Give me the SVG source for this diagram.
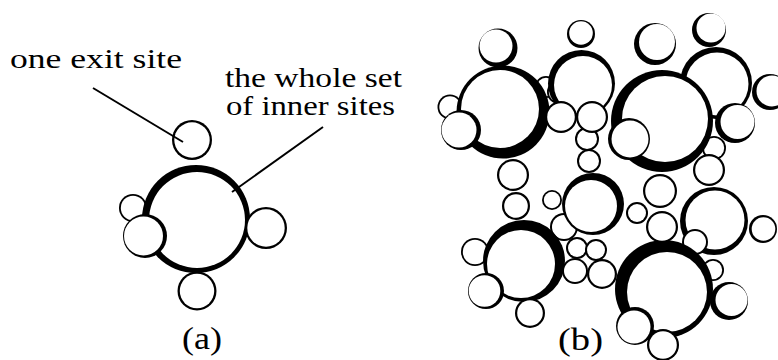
<svg xmlns="http://www.w3.org/2000/svg" width="778" height="360" viewBox="0 0 778 360">
<style>
.k{fill:#000}
.w{fill:#fff}
.t{font-family:"Liberation Serif","DejaVu Serif",serif;fill:#000}
.lead{stroke:#000;stroke-width:2;fill:none}
</style>
<rect width="778" height="360" fill="#fff"/>
<g id="panel-a">
  <g id="a-back"><circle class="k" cx="133" cy="208" r="14"/><circle class="w" cx="133" cy="208" r="12.2"/></g>
  <g id="a-inner-sites"><circle class="k" cx="196" cy="219" r="54"/><circle class="w" cx="197" cy="220" r="48"/></g>
  <g id="a-left"><circle class="k" cx="145" cy="236" r="22"/><circle class="w" cx="143.5" cy="236" r="19.5"/></g>
  <g id="a-right"><circle class="k" cx="266" cy="228" r="21"/><circle class="w" cx="266" cy="228" r="18.7"/></g>
  <g id="a-exit"><circle class="k" cx="192" cy="140" r="20"/><circle class="w" cx="192" cy="140" r="17.7"/></g>
  <g id="a-bottom"><circle class="k" cx="197" cy="291" r="19.5"/><circle class="w" cx="197" cy="291" r="17.2"/></g>
</g>
<g id="connectors">
  <line class="lead" x1="93" y1="88" x2="183" y2="142"/>
  <line class="lead" x1="323" y1="127" x2="232" y2="192"/>
</g>
<g id="panel-b">
  <g id="b-back">
    <circle class="k" cx="450" cy="107" r="12.5"/><circle class="w" cx="450" cy="107" r="10.7"/>
    <circle class="k" cx="546" cy="87" r="11"/><circle class="w" cx="546" cy="87" r="9.2"/>
    <circle class="k" cx="559" cy="92" r="12"/><circle class="w" cx="559" cy="92" r="10.2"/>
    <circle class="k" cx="581.5" cy="83.5" r="33.5"/><circle class="w" cx="583" cy="85" r="29"/>
    <circle class="k" cx="716" cy="83" r="36"/><circle class="w" cx="717" cy="84" r="31.5"/>
    <circle class="k" cx="714" cy="148" r="12"/><circle class="w" cx="714" cy="148" r="10.2"/>
    <circle class="k" cx="475" cy="252" r="14"/><circle class="w" cx="475" cy="252" r="12.2"/>
    <circle class="k" cx="552" cy="200" r="10"/><circle class="w" cx="552" cy="200" r="8.2"/>
    <circle class="k" cx="564" cy="227" r="14"/><circle class="w" cx="564" cy="227" r="12"/>
    <circle class="k" cx="714" cy="221" r="34"/><circle class="w" cx="715" cy="220" r="29.5"/>
    <circle class="k" cx="695" cy="242" r="13"/><circle class="w" cx="695" cy="242" r="11"/>
    <circle class="k" cx="713" cy="270" r="11"/><circle class="w" cx="713" cy="270" r="9.2"/>
  </g>
  <g id="b-large">
    <circle class="k" cx="503" cy="112" r="46.5"/><circle class="w" cx="500" cy="109" r="39"/>
    <circle class="k" cx="662" cy="121" r="51"/><circle class="w" cx="665" cy="119" r="43"/>
    <circle class="k" cx="593" cy="204" r="31"/><circle class="w" cx="591" cy="206" r="26"/>
    <circle class="k" cx="524" cy="261" r="41"/><circle class="w" cx="521" cy="264" r="34"/>
    <circle class="k" cx="664" cy="289" r="49"/><circle class="w" cx="667" cy="292" r="40"/>
  </g>
  <g id="b-front">
    <circle class="k" cx="498" cy="48" r="19.5"/><circle class="w" cx="496" cy="46" r="16.5"/>
    <circle class="k" cx="461" cy="130" r="20"/><circle class="w" cx="459" cy="130" r="17.5"/>
    <circle class="k" cx="513" cy="175" r="16"/><circle class="w" cx="513" cy="175" r="13.8"/>
    <circle class="k" cx="516" cy="206" r="14"/><circle class="w" cx="516" cy="206" r="11.8"/>
    <circle class="k" cx="587" cy="139" r="12"/><circle class="w" cx="587" cy="139" r="10"/>
    <circle class="k" cx="589" cy="161" r="12"/><circle class="w" cx="589" cy="161" r="10"/>
    <circle class="k" cx="561" cy="117" r="16"/><circle class="w" cx="561" cy="117" r="13.8"/>
    <circle class="k" cx="592" cy="117" r="16"/><circle class="w" cx="592" cy="117" r="13.8"/>
    <circle class="k" cx="581" cy="34" r="14"/><circle class="w" cx="581" cy="33" r="11.8"/>
    <circle class="k" cx="655" cy="44" r="21"/><circle class="w" cx="657" cy="42" r="18"/>
    <circle class="k" cx="709" cy="30" r="17"/><circle class="w" cx="711" cy="28" r="14.5"/>
    <circle class="k" cx="770" cy="92" r="18"/><circle class="w" cx="772" cy="91" r="15.5"/>
    <circle class="k" cx="735" cy="123" r="20"/><circle class="w" cx="737.5" cy="122" r="17"/>
    <circle class="k" cx="709" cy="170" r="16"/><circle class="w" cx="709" cy="170" r="13.8"/>
    <circle class="k" cx="629" cy="139" r="21"/><circle class="w" cx="630" cy="139" r="18.5"/>
    <circle class="k" cx="486" cy="291" r="18"/><circle class="w" cx="484.5" cy="291" r="15.8"/>
    <circle class="k" cx="530" cy="313" r="15"/><circle class="w" cx="530" cy="313" r="12.8"/>
    <circle class="k" cx="577" cy="248" r="11"/><circle class="w" cx="577" cy="248" r="9"/>
    <circle class="k" cx="596" cy="250" r="11"/><circle class="w" cx="596" cy="250" r="9"/>
    <circle class="k" cx="575" cy="271" r="13"/><circle class="w" cx="575" cy="271" r="11"/>
    <circle class="k" cx="602" cy="274" r="15"/><circle class="w" cx="602" cy="274" r="12.8"/>
    <circle class="k" cx="662" cy="227" r="16"/><circle class="w" cx="662" cy="227" r="13.8"/>
    <circle class="k" cx="660" cy="191" r="17"/><circle class="w" cx="660" cy="191" r="14.8"/>
    <circle class="k" cx="637" cy="213" r="11"/><circle class="w" cx="637" cy="213" r="9"/>
    <circle class="k" cx="729" cy="301" r="19"/><circle class="w" cx="731.5" cy="300" r="16"/>
    <circle class="k" cx="763" cy="229" r="14"/><circle class="w" cx="763.5" cy="229" r="11.8"/>
    <circle class="k" cx="635" cy="326" r="19"/><circle class="w" cx="634" cy="327" r="16.5"/>
    <circle class="k" cx="663" cy="345" r="16"/><circle class="w" cx="663" cy="345" r="13.8"/>
  </g>
</g>
<g id="labels">
  <text class="t" x="10" y="68" font-size="27" textLength="172" lengthAdjust="spacingAndGlyphs">one exit site</text>
  <text class="t" x="225" y="87" font-size="27" textLength="177" lengthAdjust="spacingAndGlyphs">the whole set</text>
  <text class="t" x="226" y="115" font-size="27" textLength="169" lengthAdjust="spacingAndGlyphs">of inner sites</text>
  <text class="t" x="182" y="349" font-size="31" textLength="40" lengthAdjust="spacingAndGlyphs">(a)</text>
  <text class="t" x="558" y="350" font-size="31" textLength="45" lengthAdjust="spacingAndGlyphs">(b)</text>
</g>
</svg>
